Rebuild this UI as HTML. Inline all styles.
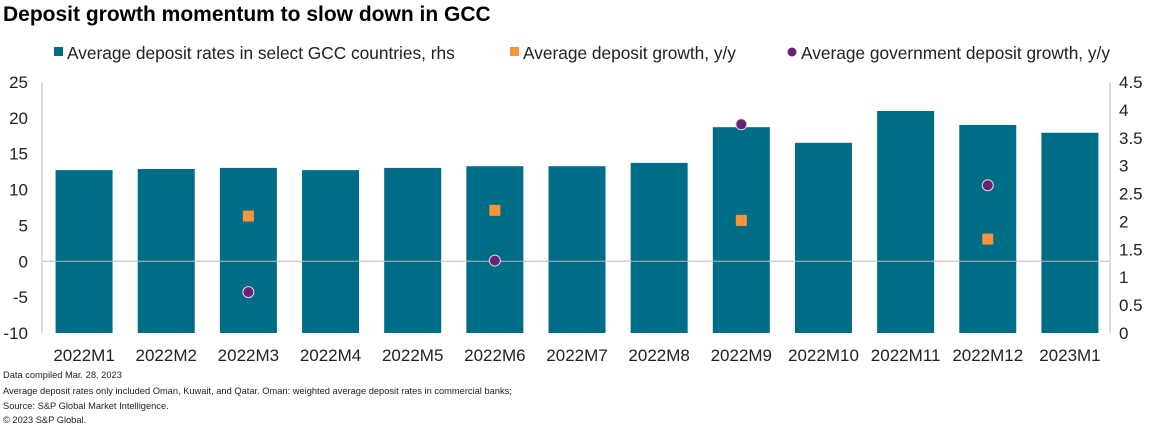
<!DOCTYPE html>
<html><head><meta charset="utf-8"><style>
body{margin:0;background:#fff;font-family:"Liberation Sans",Arial,sans-serif;}
svg text{font-family:"Liberation Sans",Arial,sans-serif;}
</style></head><body>
<svg id="c" width="1159" height="423" xmlns="http://www.w3.org/2000/svg">
<text x="3" y="21" font-size="21" font-weight="bold" fill="#000">Deposit growth momentum to slow down in GCC</text>
<g>
<rect x="54" y="47" width="9" height="9" fill="#006d86"/>
<text x="67" y="59" font-size="17.3" fill="#222">Average deposit rates in select GCC countries, rhs</text>
<rect x="510" y="47" width="9" height="9" fill="#f7943c"/>
<text x="523" y="59" font-size="17.3" fill="#222">Average deposit growth, y/y</text>
<circle cx="792" cy="52" r="4.5" fill="#6d2077"/>
<text x="801" y="59" font-size="17.3" fill="#222">Average government deposit growth, y/y</text>
</g>
<g id="plot"></g>
<g font-size="9.3" fill="#222">
<text x="3" y="378">Data compiled Mar. 28, 2023</text>
<text x="3" y="394">Average deposit rates only included Oman, Kuwait, and Qatar. Oman: weighted average deposit rates in commercial banks;</text>
<text x="3" y="409">Source: S&amp;P Global Market Intelligence.</text>
<text x="3" y="423">© 2023 S&amp;P Global.</text>
</g>
</svg>
<script>
const categories=["2022M1","2022M2","2022M3","2022M4","2022M5","2022M6","2022M7","2022M8","2022M9","2022M10","2022M11","2022M12","2023M1"];
const rates=[2.92,2.94,2.96,2.92,2.96,2.99,2.99,3.05,3.69,3.41,3.98,3.73,3.59];
const growth=[null,null,6.3,null,null,7.1,null,null,5.7,null,null,3.1,null];
const gov=[null,null,-4.3,null,null,0.1,null,null,19.1,null,null,10.6,null];
const leftTicks=[-10,-5,0,5,10,15,20,25];
const rightTicks=[0,0.5,1,1.5,2,2.5,3,3.5,4,4.5];
const NS="http://www.w3.org/2000/svg";
const g=document.getElementById('plot');
const X0=42,X1=1110,TOP=82,BOT=333;
const yL=v=>BOT-(v+10)/35*(BOT-TOP);
const yR=v=>BOT-v/4.5*(BOT-TOP);
const bw=(X1-X0)/categories.length;
const xc=i=>X0+bw*(i+0.5)+1;
function mk(t,a){const e=document.createElementNS(NS,t);for(const k in a)e.setAttribute(k,a[k]);g.appendChild(e);return e;}
let e;
e=mk('line',{x1:X0,x2:X0,y1:TOP,y2:BOT,stroke:'#bbb'});


e=mk('line',{x1:X1,x2:X1,y1:TOP,y2:BOT,stroke:'#bbb'});


leftTicks.forEach(v=>{e=mk('text',{x:28,y:yL(v)+6,'font-size':17,'text-anchor':'end',fill:'#222'});e.textContent=v;

});
rightTicks.forEach(v=>{e=mk('text',{x:1119,y:yR(v)+6,'font-size':17,fill:'#222'});e.textContent=v;

});
rates.forEach((v,i)=>{e=mk('rect',{x:xc(i)-28.5,y:yR(v),width:57,height:BOT-yR(v),fill:'#006d86'});

});
e=mk('line',{x1:X0,x2:X1,y1:yL(0),y2:yL(0),stroke:'#bbb'});


categories.forEach((c,i)=>{e=mk('text',{x:xc(i),y:361,'font-size':17,'text-anchor':'middle',fill:'#222'});e.textContent=c;

});
growth.forEach((v,i)=>{if(v===null)return;e=mk('rect',{x:xc(i)-5.5,y:yL(v)-5.5,width:11,height:11,fill:'#f7943c'});

});
gov.forEach((v,i)=>{if(v===null)return;e=mk('circle',{cx:xc(i),cy:yL(v),r:5.5,fill:'#6d2077',stroke:'#ddd','stroke-width':1});

});
</script>
</body></html>
